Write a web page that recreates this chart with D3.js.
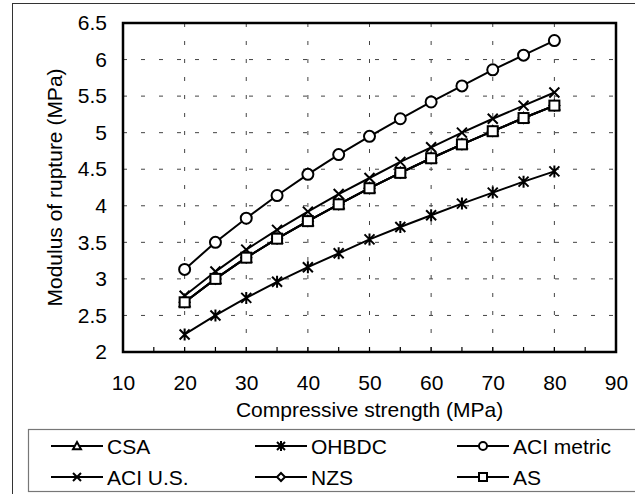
<!DOCTYPE html>
<html><head><meta charset="utf-8">
<script src="https://cdn.jsdelivr.net/npm/d3@7/dist/d3.min.js"></script>
<style>body{margin:0;background:#fff}svg{display:block}text{font-family:"Liberation Sans",Arial,sans-serif;fill:#000}</style>
</head><body><svg id="c" width="635" height="494"></svg>
<script>
const strength = [20,25,30,35,40,45,50,55,60,65,70,75,80];
const csa      = [2.68,3.00,3.29,3.55,3.79,4.02,4.24,4.45,4.65,4.84,5.02,5.20,5.37];
const ohbdc    = [2.24,2.50,2.74,2.96,3.16,3.35,3.54,3.71,3.87,4.03,4.18,4.33,4.47];
const aciMetric= [3.13,3.50,3.83,4.14,4.43,4.70,4.95,5.19,5.42,5.64,5.86,6.06,6.26];
const aciUS    = [2.77,3.10,3.40,3.67,3.92,4.16,4.38,4.60,4.80,5.00,5.19,5.37,5.55];
const nzs      = [2.68,3.00,3.29,3.55,3.79,4.02,4.24,4.45,4.65,4.84,5.02,5.20,5.37];
const as       = [2.68,3.00,3.29,3.55,3.79,4.02,4.24,4.45,4.65,4.84,5.02,5.20,5.37];
const seriesNames = ["CSA","OHBDC","ACI metric","ACI U.S.","NZS","AS"];
const seriesMarkers = ["triangle","asterisk","circle","cross","diamond","square"];
const seriesValues = [csa, ohbdc, aciMetric, aciUS, nzs, as];
const xTicks = [10,20,30,40,50,60,70,80,90];
const yTicks = [2,2.5,3,3.5,4,4.5,5,5.5,6,6.5];

const FS = 21;
const svg = d3.select("#c");
const L=123, R=616, T=23, B=352;
const x = d3.scaleLinear().domain([10,90]).range([L,R]);
const y = d3.scaleLinear().domain([2,6.5]).range([B,T]);

// outer frame
svg.append("rect").attr("x",12.5).attr("y",3.5).attr("width",640).attr("height",520)
  .attr("fill","none").attr("stroke","#333").attr("stroke-width",1);

// grid
const g = svg.append("g");
g.selectAll(".vg").data(xTicks.filter(d=>d>10&&d<90)).join("line")
  .attr("x1",d=>x(d)).attr("x2",d=>x(d)).attr("y1",T).attr("y2",B)
  .attr("stroke","#444").attr("stroke-width",1).attr("stroke-dasharray","4,14");
g.selectAll(".hg").data(yTicks.filter(d=>d>2&&d<6.5)).join("line")
  .attr("x1",L).attr("x2",R).attr("y1",d=>y(d)).attr("y2",d=>y(d))
  .attr("stroke","#444").attr("stroke-width",1).attr("stroke-dasharray","4,14");

// minor ticks on x axis
const minor = d3.range(15,90,5);
g.selectAll(".mt").data(minor).join("line")
  .attr("x1",d=>x(d)).attr("x2",d=>x(d)).attr("y1",B).attr("y2",B-5)
  .attr("stroke","#000").attr("stroke-width",1.2);

// plot frame
svg.append("rect").attr("x",L).attr("y",T).attr("width",R-L).attr("height",B-T)
  .attr("fill","none").attr("stroke","#000").attr("stroke-width",2.5);

// axes labels via d3 axes
const xAxis = svg.append("g").attr("transform",`translate(0,${B})`)
  .call(d3.axisBottom(x).tickValues(xTicks).tickSize(0).tickPadding(23).tickFormat(d3.format("d")));
xAxis.select(".domain").remove();
xAxis.selectAll("text").attr("font-size",FS).attr("font-family","Liberation Sans, Arial");
const yAxis = svg.append("g").attr("transform",`translate(${L},0)`)
  .call(d3.axisLeft(y).tickValues(yTicks).tickSize(0).tickPadding(16).tickFormat(d=>String(d)));
yAxis.select(".domain").remove();
yAxis.selectAll("text").attr("font-size",FS).attr("font-family","Liberation Sans, Arial");

svg.append("text").attr("x",(L+R)/2).attr("y",417).attr("text-anchor","middle")
  .attr("font-size",FS).text("Compressive strength (MPa)");
svg.append("text").attr("transform",`translate(62,${(T+B)/2}) rotate(-90)`).attr("text-anchor","middle")
  .attr("font-size",FS).text("Modulus of rupture (MPa)");

function marker(sel, type, s){
  const h=s/2;
  if(type==="triangle"){
    sel.append("path").attr("d",`M0,${-h}L${h},${h*0.8}L${-h},${h*0.8}Z`).attr("fill","#fff").attr("stroke","#000").attr("stroke-width",2);
  } else if(type==="circle"){
    sel.append("circle").attr("r",h).attr("fill","#fff").attr("stroke","#000").attr("stroke-width",2);
  } else if(type==="square"){
    sel.append("rect").attr("x",-h).attr("y",-h).attr("width",s).attr("height",s).attr("fill","#fff").attr("stroke","#000").attr("stroke-width",2);
  } else if(type==="diamond"){
    sel.append("path").attr("d",`M0,${-h}L${h},0L0,${h}L${-h},0Z`).attr("fill","#fff").attr("stroke","#000").attr("stroke-width",2);
  } else if(type==="cross"){
    sel.append("path").attr("d",`M${-h},${-h}L${h},${h}M${-h},${h}L${h},${-h}`).attr("stroke","#000").attr("stroke-width",2);
  } else if(type==="asterisk"){
    sel.append("path").attr("d",`M${-h},${-h}L${h},${h}M${-h},${h}L${h},${-h}M0,${-h-1}L0,${h+1}`).attr("stroke","#000").attr("stroke-width",2);
  }
}

const line = d3.line().x(d=>x(d[0])).y(d=>y(d[1]));
seriesValues.forEach((vals,i)=>{
  const pts = strength.map((s,j)=>[s,vals[j]]);
  const sg = svg.append("g");
  sg.append("path").attr("d",line(pts)).attr("fill","none").attr("stroke","#000").attr("stroke-width",2);
  pts.forEach(p=>{
    const m = sg.append("g").attr("transform",`translate(${x(p[0])},${y(p[1])})`);
    marker(m, seriesMarkers[i], seriesMarkers[i]==="circle"?11:10);
  });
});

// legend
svg.append("rect").attr("x",28.5).attr("y",429.5).attr("width",620).attr("height",62)
  .attr("fill","#fff").attr("stroke","#777").attr("stroke-width",1.2);
const colX=[51,255,457], rowY=[446,477];
seriesNames.forEach((n,i)=>{
  const cx=colX[i%3], cy=rowY[Math.floor(i/3)];
  const lg=svg.append("g");
  lg.append("line").attr("x1",cx).attr("x2",cx+52).attr("y1",cy).attr("y2",cy).attr("stroke","#000").attr("stroke-width",2);
  const m=lg.append("g").attr("transform",`translate(${cx+26},${cy})`);
  marker(m, seriesMarkers[i], 8);
  lg.append("text").attr("x",cx+56).attr("y",cy+7.5).attr("font-size",FS).text(n);
});
</script></body></html>
